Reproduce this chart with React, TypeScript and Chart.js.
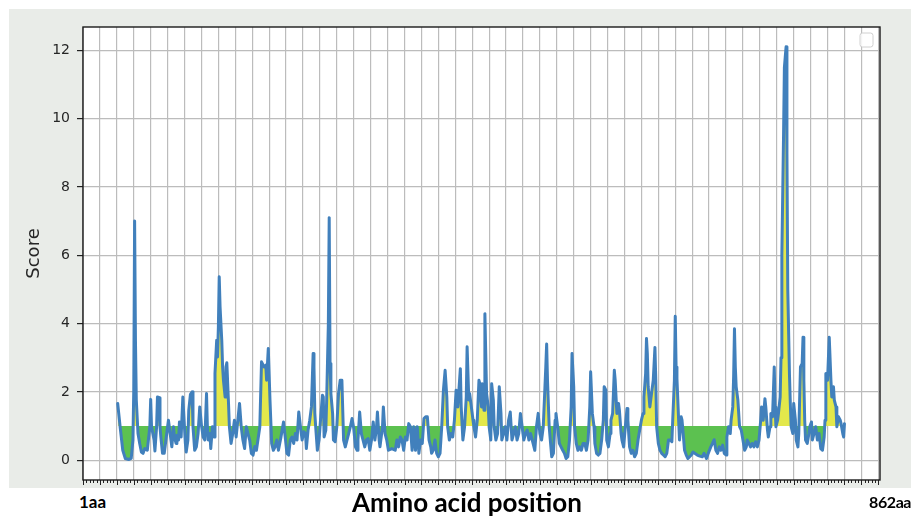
import { useEffect, useRef } from 'react';
import { Chart, registerables } from 'chart.js';

Chart.register(...registerables);

// Amino-acid positions (x) and scores (y)
const positions = [
  1, 4, 7, 10, 14, 17, 19, 20, 21, 22, 23, 25, 27, 29, 31, 33, 36, 39, 40, 41, 44, 45, 47, 48, 50, 51, 52, 54, 56, 58,
  60, 61, 63, 65, 67, 68, 70, 71, 73, 74, 76, 78, 79, 81, 82, 84, 85, 87, 89, 90, 92, 94, 96, 98, 100, 102, 104, 106,
  107, 108, 110, 111, 113, 115, 116, 118, 119, 120, 121, 122, 124, 125, 126, 128, 129, 130, 132, 133, 135, 137, 139,
  141, 143, 145, 147, 149, 151, 153, 155, 157, 159, 161,
  163, 165, 169, 171, 174, 176, 177, 179, 181, 183, 185, 187, 189, 191, 194, 197, 199, 201, 203, 205, 207, 209, 211,
  213, 215, 217, 219, 221, 223, 224, 226, 228, 230, 232, 233, 234, 235, 237, 239, 241, 243, 244, 245, 247, 248, 250,
  251, 252, 253, 255, 256, 258, 260, 262, 264, 266, 267, 268, 270, 272, 274, 276, 278, 280, 282, 284, 285, 287, 289,
  291, 293, 295, 297, 299, 301, 303, 305, 307, 308, 310, 311, 314, 315, 317, 319, 321, 325, 329, 331, 333, 335,
  337, 339, 341, 343, 345, 347, 349, 351, 353, 355, 357, 359, 361, 363, 365, 367, 369, 371, 372, 374, 376, 378, 380,
  382, 384, 386, 388, 390, 391, 393, 395, 397, 399, 401, 403, 406, 407, 409, 411, 413, 414, 416, 417, 419, 421, 422,
  424, 426, 428, 429, 431, 432, 434, 435, 437, 439, 440, 442, 443, 445, 446, 448, 450, 452, 454, 455, 457, 459, 461,
  463, 465, 467, 469, 471, 473, 475, 477, 479, 481, 483, 485, 487, 489, 491, 493, 494, 496, 498, 500, 502, 504, 506,
  507, 508, 509, 511, 513, 514, 516,
  518, 519, 521, 523, 525, 527, 529, 531, 533, 535, 537, 538, 540, 541, 543, 545, 547, 549, 551, 553, 555, 557, 559,
  560, 562, 564, 565, 567, 569, 571, 573, 575, 576, 578, 579, 581, 583, 584, 586, 588, 589, 591, 593, 594, 596, 597,
  599, 601, 603, 604, 606, 608, 610, 612, 614, 616, 618, 620, 622, 623, 625, 626, 627, 628, 630, 631, 633, 634, 636,
  637, 638, 640, 642, 644, 646, 648, 650, 652, 654, 656, 657, 659, 660, 661, 662, 664, 665, 667, 668, 670, 671, 673,
  675, 677, 679, 681, 683, 686, 689,
  692, 694, 697, 699, 702, 704, 706, 708, 710, 712, 714, 716, 718, 720, 721, 723, 725, 726, 728, 729, 730, 731, 732,
  734, 735, 736, 738, 740, 742, 744, 745, 747, 749, 751, 753, 755, 757, 759, 761, 762, 764, 766, 767, 769, 770, 772,
  773, 775, 777, 778, 779, 781, 782, 784, 785, 786, 788, 789, 790, 791, 792, 793, 795, 796, 797, 799, 800, 802, 803,
  805, 806, 808, 810, 811, 812, 813, 814, 816, 818, 819, 821, 822, 824, 826, 828, 830, 832, 834, 836, 837, 838, 840,
  842, 844, 845, 847, 848, 850, 851, 853, 855, 856, 858, 859, 860,
];

const scores = [
  1.66, 0.95, 0.29, 0.05, 0.02, 0.05, 0.59, 2.05, 7.0, 3.5, 1.76, 0.78, 0.49, 0.24, 0.2, 0.34, 0.29, 0.98, 1.78, 0.98,
  0.59, 0.27, 0.98, 1.85, 1.83, 0.98, 0.68, 0.2, 0.2, 0.59,
  0.98, 1.17, 0.78, 0.39, 0.98, 0.68, 0.49, 0.73, 0.59, 1.12, 0.68, 1.85, 1.37, 0.49, 0.24, 0.59, 1.46, 1.93, 2.0, 0.98,
  0.29, 0.39, 0.78, 1.56, 1.02, 0.68, 0.59, 1.95,
  0.98, 0.59, 0.78, 0.34, 0.98, 0.68, 2.54, 3.51, 3.02, 3.9, 5.37, 4.49, 3.51, 2.73, 2.34, 1.85, 2.73, 2.85, 1.66, 0.98,
  0.49, 0.78, 1.17,
  0.68, 1.17, 1.66, 0.98, 0.59, 0.34, 0.98, 0.78, 0.59, 0.2, 0.15,
  0.4, 0.29, 0.98, 2.88, 2.73, 2.78, 2.34, 3.27, 1.76, 0.49, 0.29, 0.39, 0.59, 0.29, 0.68, 1.12, 0.68, 0.2, 0.15, 0.59,
  0.68, 0.49, 0.78,
  0.59, 1.41, 0.98, 0.59, 0.83, 0.78, 0.34, 0.88, 1.17, 1.56, 3.12, 2.73, 1.37, 0.98, 0.29, 0.59, 1.27, 1.9, 1.85, 0.68,
  0.88, 1.76, 4.0,
  7.1, 2.83, 1.95, 1.37, 0.59, 0.54, 0.98, 1.95, 2.34, 2.34, 1.46, 0.59, 0.39, 0.59, 0.78, 0.98, 1.22, 0.93, 0.39, 0.29,
  0.59, 1.41, 0.78,
  0.59, 0.39, 0.59, 0.63, 0.29, 0.59, 1.12, 0.59, 0.98, 1.41, 0.59, 0.39, 0.98, 1.56, 0.78, 0.59, 0.29, 0.34, 0.29, 0.59,
  0.39, 0.68,
  0.59, 0.29, 0.68, 0.59, 1.07, 0.98, 0.29, 0.98, 0.29, 0.98, 0.2, 0.59, 0.49, 1.22, 1.27, 1.27, 0.59, 0.39, 0.2, 0.29,
  0.59, 0.2, 0.1,
  0.2, 0.98, 2.05, 2.63, 1.85, 0.98, 0.59, 0.78, 0.68, 1.17, 2.05, 1.56, 2.68, 1.56, 0.59, 0.98, 1.85, 3.32, 1.76, 1.95,
  1.56, 1.17, 0.98,
  0.68, 1.17, 2.34, 2.24, 1.56, 2.24, 1.46, 4.29, 1.95, 1.56, 0.98, 0.59, 2.24, 1.76, 0.98, 0.59, 0.78, 2.15, 1.37, 0.59,
  0.78, 0.98, 0.59,
  1.17, 1.41, 0.59, 0.78, 0.98, 0.59, 0.78, 1.37, 0.98, 0.59, 0.78, 0.88, 0.59, 0.78, 0.59, 0.39, 0.29, 0.98, 1.37, 0.78,
  0.59, 0.98, 2.15,
  2.73, 3.4, 2.34, 0.98, 0.39, 0.1, 0.2,
  1.17, 1.37, 0.98, 0.49, 0.39, 0.29, 0.2, 0.05, 0.1, 0.59, 1.56, 3.12, 2.15, 0.98, 0.49, 0.29, 0.39, 0.29, 0.49, 0.49,
  0.29, 0.59, 1.56,
  2.59, 1.37, 0.98, 0.49, 0.2, 0.15, 0.2, 0.59, 1.17, 2.15, 2.05, 0.59, 0.39, 0.78, 1.17, 1.37, 2.63, 2.34, 1.37, 1.66,
  1.46, 0.78, 0.59,
  0.39, 0.98, 1.51, 1.17, 0.39, 0.2, 0.29, 0.1, 0.2, 0.59, 0.88, 1.17, 1.37, 1.85, 2.54, 3.56, 3.12, 2.15, 1.56, 1.76,
  2.15, 2.34, 3.3,
  2.34, 0.98, 0.49, 0.29, 0.2, 0.15, 0.1, 0.2, 0.59, 0.59, 0.54, 1.17, 2.34, 4.21, 2.73, 2.39, 1.17, 0.59, 1.27, 1.17,
  0.59, 0.29, 0.15,
  0.05, 0.1, 0.15, 0.24, 0.2, 0.15, 0.12,
  0.1, 0.2, 0.05, 0.2, 0.39, 0.49, 0.6, 0.29, 0.2, 0.39, 0.29, 0.44, 0.2, 0.15, 0.68, 0.98, 0.78, 1.17, 1.56, 2.44, 3.85,
  2.73, 2.15,
  1.76, 1.37, 0.98, 0.88, 0.59, 0.29, 0.39, 0.59, 0.49, 0.39, 0.49, 0.39, 0.54, 0.39, 0.59, 1.17, 1.56, 1.17, 1.8, 1.56,
  0.88, 0.68, 0.98,
  1.37, 1.27, 2.73, 1.56, 0.98, 1.17, 1.37, 1.85, 3.0, 6.0, 9.5, 11.5, 11.8, 12.1, 9.0, 5.0, 2.5, 1.66, 0.98, 0.78, 1.66,
  1.17, 0.59,
  0.39, 0.78, 2.73, 2.83, 3.6, 2.34, 1.17, 0.59, 0.49, 0.78, 0.98, 1.12, 0.59, 0.78, 0.98, 0.59, 0.78, 0.34, 0.29, 0.68,
  1.17, 2.54, 2.34,
  3.6, 2.34, 1.85, 2.15, 1.76, 1.56, 0.98, 1.27, 1.17, 1.07, 0.78, 0.68, 1.07,
];

const threshold = 1;
const yTicks = [0, 2, 4, 6, 8, 10, 12];
const yMin = -0.58;
const yMax = 12.68;
const xMin = -40;
const xMax = 902;
const xMajorStep = 20;
const xMinorStep = 4;
const yTitle = 'Score';
const xTitle = 'Amino acid position';
const startLabel = '1aa';
const endLabel = '862aa';

export default function App() {
  const ref = useRef<HTMLCanvasElement>(null);

  useEffect(() => {
    document.body.style.overflow = 'hidden';
    const canvas = ref.current;
    if (!canvas) return;

    const framePlugin = {
      id: 'framePlugin',
      beforeDraw(chart: any) {
        const { ctx, chartArea: a } = chart;
        ctx.save();
        ctx.fillStyle = '#ffffff';
        ctx.fillRect(a.left, a.top, a.right - a.left, a.bottom - a.top);
        ctx.restore();
      },
      afterDraw(chart: any) {
        const { ctx, chartArea: a } = chart;
        const xs = chart.scales.x;
        ctx.save();
        // x tick marks (major + minor)
        ctx.strokeStyle = '#222222';
        ctx.lineWidth = 1;
        const start = Math.ceil(xs.min / xMinorStep) * xMinorStep;
        for (let v = start; v <= xs.max; v += xMinorStep) {
          const px = Math.round(xs.getPixelForValue(v)) + 0.5;
          const len = v % xMajorStep === 0 ? 5 : 3;
          ctx.beginPath();
          ctx.moveTo(px, a.bottom);
          ctx.lineTo(px, a.bottom + len);
          ctx.stroke();
        }
        // empty legend box
        const bx = a.right - 20;
        const by = a.top + 6;
        const bw = 13;
        const bh = 14;
        const r = 2.5;
        ctx.beginPath();
        ctx.moveTo(bx + r, by);
        ctx.arcTo(bx + bw, by, bx + bw, by + bh, r);
        ctx.arcTo(bx + bw, by + bh, bx, by + bh, r);
        ctx.arcTo(bx, by + bh, bx, by, r);
        ctx.arcTo(bx, by, bx + bw, by, r);
        ctx.closePath();
        ctx.fillStyle = 'rgba(255,255,255,0.85)';
        ctx.fill();
        ctx.strokeStyle = '#d0d0d0';
        ctx.stroke();
        // frame
        ctx.strokeStyle = '#1a1a1a';
        ctx.lineWidth = 1.4;
        ctx.strokeRect(a.left, a.top, a.right - a.left, a.bottom - a.top);
        ctx.restore();
      },
    };

    const chart = new Chart(canvas, {
      type: 'line',
      data: {
        datasets: [
          {
            data: positions.map((x, i) => ({ x, y: scores[i] })),
            borderColor: '#4180bc',
            borderWidth: 3,
            borderJoinStyle: 'round',
            borderCapStyle: 'round',
            pointRadius: 0,
            tension: 0,
            fill: { target: { value: threshold }, above: '#e3e84b', below: '#5cc150' },
          } as any,
        ],
      },
      options: {
        responsive: false,
        animation: false,
        devicePixelRatio: 1,
        events: [],
        layout: { padding: { top: 18, right: 31, left: 0, bottom: 0 } },
        plugins: { legend: { display: false }, tooltip: { enabled: false } },
        scales: {
          x: {
            type: 'linear',
            min: xMin,
            max: xMax,
            afterBuildTicks: (s: any) => {
              const t: any[] = [];
              for (let v = Math.ceil(xMin / xMajorStep) * xMajorStep; v <= xMax; v += xMajorStep) t.push({ value: v });
              s.ticks = t;
            },
            afterFit: (s: any) => {
              s.height = 8;
              s.paddingLeft = 0;
              s.paddingRight = 0;
              s.paddingTop = 0;
              s.paddingBottom = 0;
            },
            ticks: { display: false },
            grid: { color: '#bcbcbc', lineWidth: 1.2, drawTicks: false },
            border: { display: false },
          },
          y: {
            type: 'linear',
            min: yMin,
            max: yMax,
            afterBuildTicks: (s: any) => {
              s.ticks = yTicks.map((v) => ({ value: v }));
            },
            afterFit: (s: any) => {
              s.width = 74;
              s.paddingTop = 0;
              s.paddingBottom = 0;
              s.paddingLeft = 0;
              s.paddingRight = 0;
            },
            ticks: {
              font: { family: 'DejaVu Sans', size: 14 },
              color: '#262626',
              padding: 7,
              callback: (v: any) => String(v),
            },
            grid: { color: '#bcbcbc', lineWidth: 1.2, drawTicks: true, tickLength: 6, tickColor: '#222222' },
            border: { display: false },
            title: {
              display: true,
              text: yTitle,
              font: { family: 'DejaVu Sans', size: 18 },
              color: '#262626',
              padding: { top: 15, bottom: 0 },
            },
          },
        },
      },
      plugins: [framePlugin],
    });

    return () => chart.destroy();
  }, []);

  const edgeLabel = {
    position: 'absolute' as const,
    top: 485,
    fontFamily: 'Lato, sans-serif',
    fontWeight: 700,
    fontSize: 17,
    lineHeight: 1,
    color: '#000',
    whiteSpace: 'nowrap' as const,
  };

  return (
    <div style={{ position: 'relative', width: 903, height: 508 }}>
      <div
        style={{
          position: 'absolute',
          left: 1,
          top: 1,
          width: 902,
          height: 479,
          background: '#e9ece8',
        }}
      >
        <canvas ref={ref} width={902} height={479} style={{ display: 'block', width: 902, height: 479 }} />
      </div>
      <div style={{ ...edgeLabel, left: 71 }}>{startLabel}</div>
      <div
        style={{
          position: 'absolute',
          left: 459,
          top: 481,
          transform: 'translateX(-50%)',
          fontFamily: 'Lato, sans-serif',
          fontWeight: 700,
          fontSize: 26,
          lineHeight: 1,
          color: '#000',
          whiteSpace: 'nowrap',
        }}
      >
        {xTitle}
      </div>
      <div style={{ ...edgeLabel, left: 861, fontSize: 16, top: 486, letterSpacing: -0.4 }}>{endLabel}</div>
    </div>
  );
}
